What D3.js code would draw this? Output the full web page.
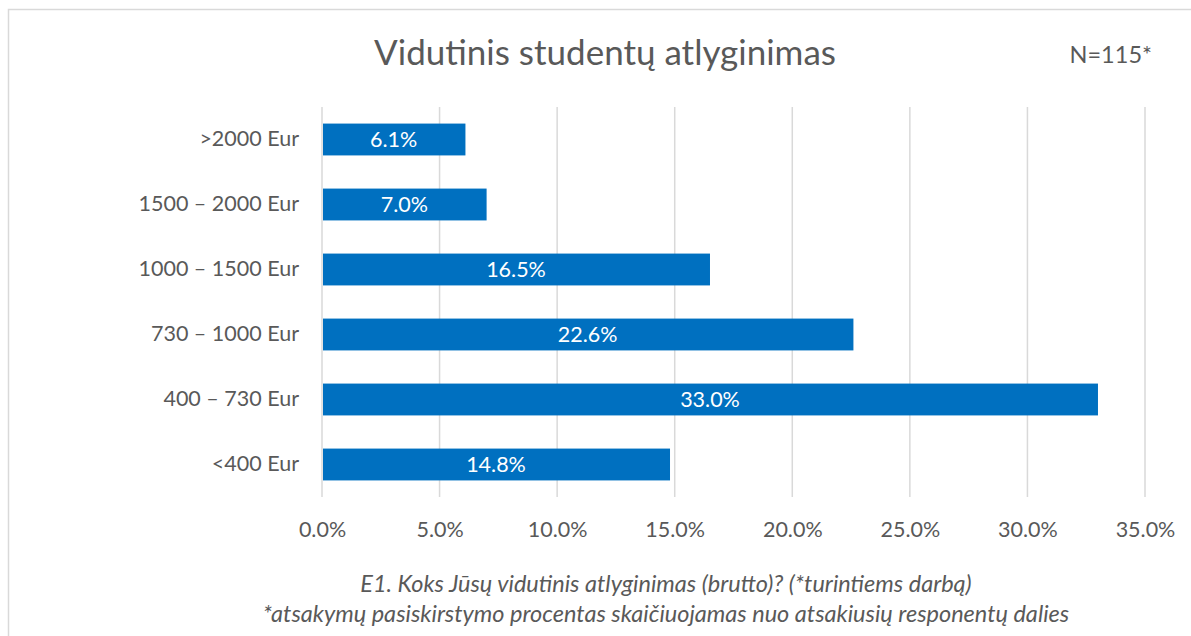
<!DOCTYPE html>
<html>
<head>
<meta charset="utf-8">
<script src="https://cdn.jsdelivr.net/npm/d3@7"></script>
<style>
  html, body { margin: 0; padding: 0; background: #fff; }
  svg { display: block; font-family: Lato, "Open Sans", sans-serif; }
</style>
</head>
<body>
<div id="chart"></div>
<script>
// chart data
const categories = [">2000 Eur", "1500 – 2000 Eur", "1000 – 1500 Eur", "730 – 1000 Eur", "400 – 730 Eur", "<400 Eur"];
const values = [6.1, 7.0, 16.5, 22.6, 33.0, 14.8];
const ticks = [0, 5, 10, 15, 20, 25, 30, 35];

const title = "Vidutinis studentų atlyginimas";
const sampleNote = "N=115*";
const captionLines = [
  "E1. Koks Jūsų vidutinis atlyginimas (brutto)? (*turintiems darbą)",
  "*atsakymų pasiskirstymo procentas skaičiuojamas nuo atsakiusių responentų dalies"
];

const W = 1191, H = 636;
var margin = { top: 107, right: 46, bottom: 139, left: 322 };
var width = W - margin.left - margin.right,
    height = H - margin.top - margin.bottom;

const textColor = "#595959";
const labelSize = "21.5px";

const svg = d3.select("#chart").append("svg")
  .attr("width", W)
  .attr("height", H);

// outer chart border (left & top visible)
svg.append("path")
  .attr("d", `M8.5,${H} V9.5 H${W}`)
  .attr("fill", "none")
  .attr("stroke", "#d9d9d9")
  .attr("stroke-width", 1.5);

const x = d3.scaleLinear().domain([0, 35]).range([0, width]);
const y = d3.scaleBand().domain(categories).range([0, height]).paddingInner(0.51).paddingOuter(0.255);

const g = svg.append("g")
  .attr("transform", `translate(${margin.left},${margin.top})`);

// vertical gridlines
g.append("g")
  .selectAll("line")
  .data(ticks)
  .join("line")
  .attr("x1", d => x(d))
  .attr("x2", d => x(d))
  .attr("y1", 0)
  .attr("y2", height)
  .attr("stroke", "#d9d9d9")
  .attr("stroke-width", 1.5);

// x axis labels
const xAxis = g.append("g")
  .attr("transform", `translate(0,${height})`)
  .call(d3.axisBottom(x).tickValues(ticks).tickSize(0).tickPadding(25).tickFormat(d => d.toFixed(1) + "%"));
xAxis.select(".domain").remove();
xAxis.selectAll("text")
  .attr("fill", textColor)
  .style("font-size", labelSize)
  .style("font-family", "Lato, sans-serif");

// y axis labels
const yAxis = g.append("g")
  .call(d3.axisLeft(y).tickSize(0).tickPadding(23));
yAxis.select(".domain").remove();
yAxis.selectAll("text")
  .attr("fill", textColor)
  .style("font-size", labelSize)
  .style("font-family", "Lato, sans-serif");

// bars
g.append("g")
  .selectAll("rect")
  .data(values)
  .join("rect")
  .attr("x", x(0) + 1)
  .attr("y", (d, i) => y(categories[i]))
  .attr("width", d => x(d) - 1)
  .attr("height", y.bandwidth())
  .attr("fill", "#0070c0");

// value labels
g.append("g")
  .selectAll("text")
  .data(values)
  .join("text")
  .attr("x", d => x(d) / 2)
  .attr("y", (d, i) => y(categories[i]) + y.bandwidth() / 2)
  .attr("dy", "0.36em")
  .attr("text-anchor", "middle")
  .attr("fill", "#fff")
  .style("font-size", labelSize)
  .text(d => d.toFixed(1) + "%");

// title
svg.append("text")
  .attr("x", 605)
  .attr("y", 65)
  .attr("text-anchor", "middle")
  .attr("fill", textColor)
  .style("font-size", "35px")
  .text(title);

svg.append("text")
  .attr("x", 1152)
  .attr("y", 63)
  .attr("text-anchor", "end")
  .attr("fill", textColor)
  .style("font-size", "23.5px")
  .text(sampleNote);

// caption
svg.append("g")
  .selectAll("text")
  .data(captionLines)
  .join("text")
  .attr("x", 666)
  .attr("y", (d, i) => 592 + i * 30)
  .attr("text-anchor", "middle")
  .attr("fill", textColor)
  .style("font-size", "23.5px")
  .style("font-style", "italic")
  .text(d => d);
</script>
</body>
</html>
